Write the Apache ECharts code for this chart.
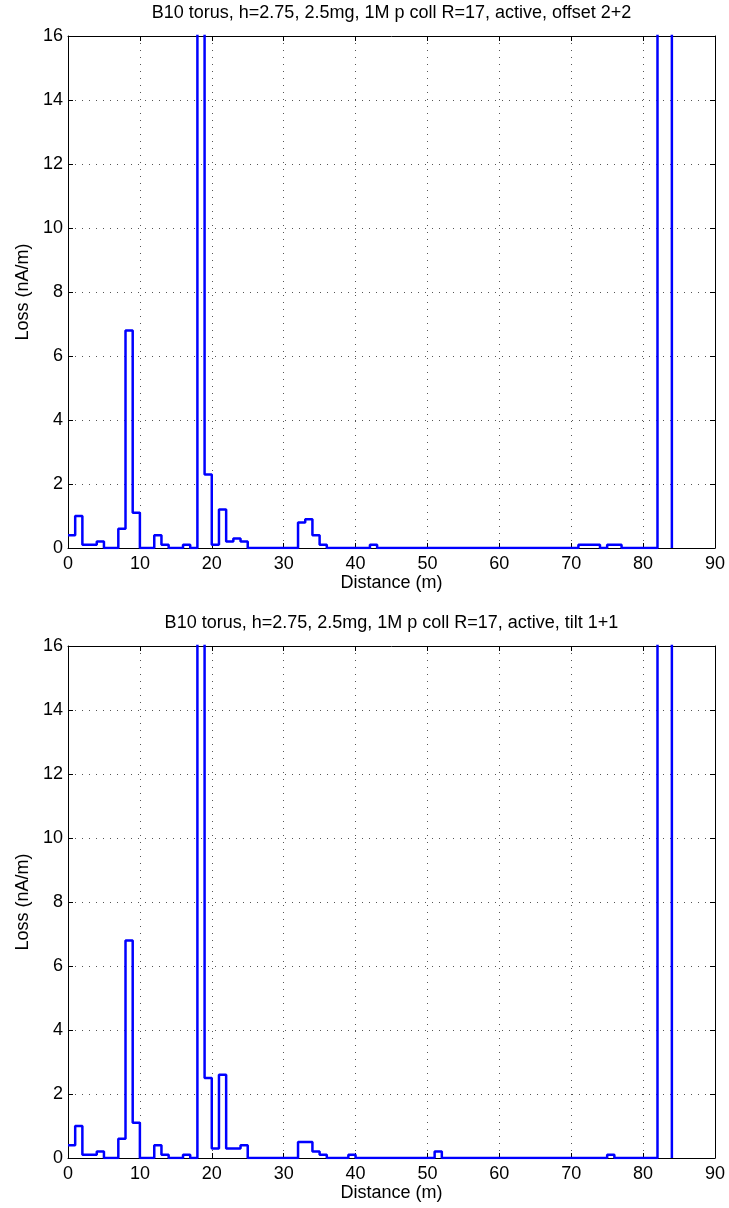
<!DOCTYPE html>
<html>
<head>
<meta charset="utf-8">
<script src="https://cdn.jsdelivr.net/npm/echarts@6/dist/echarts.min.js"></script>
<style>html,body{margin:0;padding:0;background:#fff}#c{width:729px;height:1208px}</style>
</head>
<body>
<div id="c"></div>
<script>
// Bin starts are 0,1,2,... (1 m bins); last edge at 84 m.
const titles = [
  'B10 torus, h=2.75, 2.5mg, 1M p coll R=17, active, offset 2+2',
  'B10 torus, h=2.75, 2.5mg, 1M p coll R=17, active, tilt 1+1'
];
const xTicks = [0,10,20,30,40,50,60,70,80,90];
const yTicks = [0,2,4,6,8,10,12,14,16];
const xLabel = 'Distance (m)';
const yLabel = 'Loss (nA/m)';
// Values per 1 m bin (nA/m); 60 = off-scale spike
const lossOffset = [
  0.4,1.0,0.1,0.1,0.2,0,0,0.6,6.8,1.1,
  0,0,0.4,0.1,0,0,0.1,0,60,2.3,
  0.1,1.2,0.2,0.3,0.2,0,0,0,0,0,
  0,0,0.8,0.9,0.4,0.1,0,0,0,0,
  0,0,0.1,0,0,0,0,0,0,0,
  0,0,0,0,0,0,0,0,0,0,
  0,0,0,0,0,0,0,0,0,0,
  0,0.1,0.1,0.1,0,0.1,0.1,0,0,0,
  0,0,60,60
];
const lossTilt = [
  0.4,1.0,0.1,0.1,0.2,0,0,0.6,6.8,1.1,
  0,0,0.4,0.1,0,0,0.1,0,60,2.5,
  0.3,2.6,0.3,0.3,0.4,0,0,0,0,0,
  0,0,0.5,0.5,0.2,0.1,0,0,0,0.1,
  0,0,0,0,0,0,0,0,0,0,
  0,0.2,0,0,0,0,0,0,0,0,
  0,0,0,0,0,0,0,0,0,0,
  0,0,0,0,0,0.1,0,0,0,0,
  0,0,60,60
];
const seriesList = [lossOffset, lossTilt];

function toSteps(vals){
  const pts = vals.map((v,i)=>[i,v]);
  pts.push([vals.length, 0]);
  return pts;
}

const FONT = 'Liberation Sans, Arial, Helvetica, sans-serif';
const FS = 18;
const gridTops = [36, 646];
const gridH = 512;
const gLeft = 68, gRight = 14;
const chart = echarts.init(document.getElementById('c'), null, {renderer:'canvas'});
const grids=[], xAxes=[], yAxes=[], series=[], graphics=[];
const gridLine = {show:true, lineStyle:{color:'#555', type:[1,6], width:1}};
gridTops.forEach((top, k)=>{
  grids.push({left:gLeft, right:gRight, top:top, height:gridH, containLabel:false});
  const common = {min:0, interval:10, max:90};
  xAxes.push({gridIndex:k, type:'value', position:'bottom', ...common,
    name:xLabel, nameLocation:'middle', nameGap:21,
    nameTextStyle:{color:'#000', fontSize:FS, fontFamily:FONT, lineHeight:18},
    axisLine:{show:true, onZero:false, lineStyle:{color:'#000', width:1}},
    axisTick:{show:true, inside:true, length:5, lineStyle:{color:'#000'}},
    axisLabel:{color:'#000', fontSize:FS, fontFamily:FONT, margin:7, lineHeight:18, formatter:v=>xTicks.includes(v)?String(v):''},
    splitLine:gridLine});
  xAxes.push({gridIndex:k, type:'value', position:'top', ...common,
    axisLine:{show:true, onZero:false, lineStyle:{color:'#000', width:1}},
    axisTick:{show:true, inside:true, length:5, lineStyle:{color:'#000'}},
    axisLabel:{show:false}, splitLine:{show:false}});
  const ycommon = {min:0, max:16, interval:2};
  yAxes.push({gridIndex:k, type:'value', position:'left', ...ycommon,
    name:yLabel, nameLocation:'middle', nameGap:36, nameRotate:90,
    nameTextStyle:{color:'#000', fontSize:FS, fontFamily:FONT, lineHeight:18},
    axisLine:{show:true, onZero:false, lineStyle:{color:'#000', width:1}},
    axisTick:{show:true, inside:true, length:5, lineStyle:{color:'#000'}},
    axisLabel:{color:'#000', fontSize:FS, fontFamily:FONT, margin:5, formatter:v=>yTicks.includes(v)?String(v):''},
    splitLine:gridLine});
  yAxes.push({gridIndex:k, type:'value', position:'right', ...ycommon,
    axisLine:{show:true, onZero:false, lineStyle:{color:'#000', width:1}},
    axisTick:{show:true, inside:true, length:5, lineStyle:{color:'#000'}},
    axisLabel:{show:false}, splitLine:{show:false}});
  series.push({type:'line', xAxisIndex:2*k, yAxisIndex:2*k, step:'end',
    data:toSteps(seriesList[k]), showSymbol:false, symbol:'none', clip:true,
    lineStyle:{color:'#0000ff', width:2.5}, animation:false});
  graphics.push({type:'text', x: gLeft + (729-gLeft-gRight)/2, y: top - 23,
    style:{text:titles[k], fill:'#000', font:'18px '+FONT, textAlign:'center', textVerticalAlign:'middle'}});
});
chart.setOption({animation:false, backgroundColor:'#fff', grid:grids, xAxis:xAxes, yAxis:yAxes, series:series, graphic:graphics});
</script>
</body>
</html>
